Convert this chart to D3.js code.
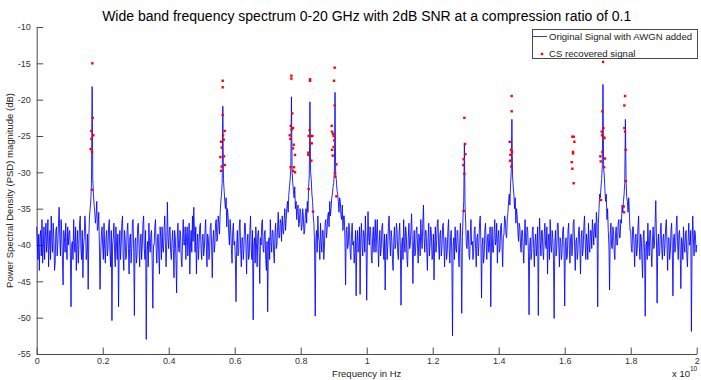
<!DOCTYPE html>
<html>
<head>
<meta charset="utf-8">
<script src="https://cdn.jsdelivr.net/npm/d3@7"></script>
<style>
    html, body { margin: 0; padding: 0; background: #fff; }
    svg { display: block; font-family: "Liberation Sans", Arial, Helvetica, sans-serif; }
</style>
</head>
<body>
<svg id="chart" width="701" height="380"></svg>
<script>
// PSD of the noisy signal, one sample every 2e7 Hz (0 .. 2e10 Hz), in dB
const freqStep = 2e7;
const psd = [
    -37.5, -40, -42, -38.5, -43.5, -39, -38, -41.5, -36.5, -42.5, -40.5, -37.5, -42, -39, -37, -41, -39.5, -36.5, -43, -40, -38, -42, -36, -39.5, -41,
    -37, -39, -43.5, -42.5, -38, -37.5, -41.5, -40, -37, -34.8, -39, -41.5, -36.5, -38.5, -42, -45.5, -38, -39, -41, -37, -40.5, -42, -37.5, -40, -38.5,
    -38, -41, -48.5, -40, -39.5, -42, -36.5, -39.5, -41, -37.5, -43.5, -40, -38, -42.5, -40, -37, -36, -40.5, -42, -38, -44.5, -40, -39, -36, -37.5,
    -42, -41, -38.5, -46.1, -39, -36, -35, -33.8, -31.5, -18.2, -31, -33, -34.5, -35.5, -37, -36, -34, -38, -37.5, -35.5, -40, -46.1, -41, -38.5, -37.5,
    -40, -42, -37, -40.5, -42.5, -39, -38, -41.5, -40.5, -37.5, -36.5, -41, -43, -38, -50.4, -40, -39, -37, -41, -43, -37.5, -40, -42, -38.5, -48.5,
    -40.5, -38, -42, -40, -37, -36, -41.5, -43.5, -38, -39, -42, -41.5, -38, -37, -40.5, -44, -39, -38.5, -42.5, -40.5, -37, -36.5, -41, -49.7, -39.5,
    -39, -42.5, -41.5, -37.5, -37, -40, -43, -39.5, -38.5, -42, -40, -37, -36, -40.5, -42, -38, -53, -41, -39.5, -43, -37, -40, -41, -38.5, -38,
    -42.5, -48.7, -40, -40, -37.5, -36.5, -40.5, -42.5, -39, -38.5, -41.5, -44, -37.5, -39, -42, -37.5, -40.5, -41, -38, -36, -39.5, -43, -40, -34.1, -39,
    -40.5, -38, -37.5, -41, -42, -39.5, -38, -40.5, -44.5, -38, -39, -42, -46.6, -39, -37, -40.5, -41, -38, -38.5, -42, -43, -39.5, -36.5, -40, -40,
    -37.5, -42, -39, -37.5, -41.5, -39.5, -37, -44, -40, -38, -41, -36, -39.5, -34.8, -38, -41, -37.5, -44, -40, -38.5, -42, -40, -37.5, -37, -40.5,
    -42, -39, -38.5, -41.5, -40.5, -38, -36.5, -40, -43, -38.5, -39, -42, -41, -37.5, -37, -40, -44.5, -39.5, -38, -41, -40, -37, -36.5, -39.5, -39,
    -36, -37, -38.5, -35.5, -34, -33, -31.5, -20.9, -31, -32.5, -34, -35, -33.5, -37.5, -35, -36, -38.5, -40, -36.5, -38, -40.5, -42.5, -38, -37, -40,
    -39.5, -42, -47.8, -40, -38, -41.5, -41, -37.5, -36.5, -40.5, -43, -39, -39, -42, -40.5, -37, -37, -40, -44, -39.5, -38.5, -42, -41.5, -38, -36,
    -40.5, -42, -38, -50.3, -40, -39, -42.5, -37.5, -40, -43, -38.5, -38, -41, -45.3, -39, -40, -37, -36.5, -40.5, -41, -38.5, -38, -42, -43.5, -39.5,
    -49.2, -40, -39, -42, -36.5, -39.5, -41, -38, -38, -41, -42.5, -38.5, -37, -40.5, -40, -37.5, -35.5, -39, -39, -36.5, -37, -39.5, -36, -38, -38.5,
    -36.5, -35, -38, -36.5, -35, -34, -35.5, -33, -32, -31, -29.5, -19.6, -30, -31.5, -32.5, -33.5, -32, -35, -34, -36.5, -35, -34.5, -37.5, -37, -35,
    -35.5, -38, -37.5, -35, -36, -38.5, -38, -36, -35, -37, -34, -35.5, -32, -30.5, -20.3, -30, -31, -33, -34, -36, -37, -40, -49.8, -39, -38,
    -41, -36, -39, -39.5, -42, -37, -39.5, -41, -38, -38, -42, -40, -37, -36.5, -39, -38, -36, -35.5, -37.5, -34, -36, -35, -33.5, -33, -32,
    -31.5, -30, -19, -30.5, -31, -32.5, -33, -34, -35.5, -33.5, -34, -36, -36.5, -34.5, -38, -36, -36, -39, -45.5, -38, -37.5, -40.5, -40, -37, -38,
    -41, -42, -38.5, -37, -40, -39.5, -42.5, -41, -38, -47, -39.5, -38, -41, -40.5, -37.5, -46.8, -39, -37, -40, -41.5, -38, -38.5, -41, -36, -39.5,
    -47.6, -40, -35.4, -39, -40, -37.5, -38, -41.5, -42.5, -39, -37.5, -41, -39, -36.5, -41, -38.5, -36.5, -40, -43, -39.5, -38, -41.5, -40.5, -37.5, -37,
    -40, -42, -38.5, -46.2, -40, -38.5, -42, -40, -37, -36, -39.5, -41.5, -38, -39, -42, -43.5, -39.5, -37.5, -40.5, -40, -37, -38, -41, -42, -38.5,
    -37, -40.5, -48.3, -40, -39, -42, -36.5, -39.5, -41, -37.5, -38.5, -42, -43, -39, -37, -40.5, -40, -38, -35.7, -39.5, -45.3, -40, -38, -41.5, -41,
    -38, -37.5, -40, -42.5, -38.5, -39, -41.5, -36.5, -39, -40.5, -37, -34.5, -39, -41, -38, -38, -41, -43.5, -39, -37, -41.5, -40, -37.5, -38.5, -42,
    -41.5, -38.5, -44.8, -40, -37.5, -41, -39.5, -37, -36.5, -40, -42, -38.5, -38, -41.5, -40.5, -37.5, -37, -40, -43, -39, -39, -42, -41, -38, -36.5,
    -40.5, -42.5, -39, -38, -41.5, -52.5, -40, -39, -42, -37.5, -40.5, -41, -38, -38, -41.5, -43, -39.5, -37, -41, -49.4, -39, -36, -34, -26, -34.5,
    -37, -40, -40.5, -38, -38, -41.5, -42, -38.5, -36.5, -40, -39.5, -42, -41, -38, -37.5, -40.5, -43, -39, -38.5, -41.5, -40, -37, -36, -39.5, -47.3,
    -40, -39, -42.5, -41.5, -38, -37, -40, -42, -39, -38.5, -41, -40, -37.5, -48.5, -40, -37.5, -41, -41, -38.5, -36.5, -40, -39.5, -37, -42.5, -39,
    -38, -41, -40.5, -37.5, -37, -40, -43, -39, -38.5, -36, -36.5, -38.5, -39, -36.5, -35.5, -34, -33, -34.5, -31.5, -30, -22.7, -30.5, -32, -33, -35,
    -33.5, -37, -35, -36, -38, -39.5, -37, -37.5, -40, -41, -38, -38, -40.5, -42.5, -39, -36.5, -40, -40, -37.5, -38, -41, -49.6, -40, -39, -42,
    -41, -38, -37.5, -40.5, -43, -39.5, -38.5, -41.5, -40, -37.5, -49.7, -40, -36.3, -39.5, -41.5, -38, -38, -41, -42, -38.5, -37, -40, -40.5, -37.5, -44,
    -39.5, -38.5, -42, -36.5, -40, -41, -38, -39, -42, -50.1, -40, -38, -41.5, -40.5, -37, -37, -40, -43, -39, -39.5, -42, -41, -38, -37.5, -40.5,
    -48.4, -40, -39, -42, -41.5, -38, -37, -40.5, -42.5, -39, -38.5, -41.5, -40, -37, -36.5, -40, -43.5, -39.5, -39, -42, -41, -38, -37.5, -40.5, -44,
    -39, -38, -41.5, -40.5, -37.5, -36, -39.5, -42, -38.5, -39.5, -42, -37, -40, -41, -38, -38, -40.5, -36.5, -38, -40, -37.5, -37, -39, -35.5, -37,
    -48.5, -37, -35, -33, -33.5, -32, -31, -29, -17.9, -29.5, -30.5, -32.5, -34, -33, -36.5, -35, -38, -40, -46.2, -38.5, -37, -40, -40.5, -37.5, -38,
    -41, -42, -38.5, -37.5, -40, -40, -37, -36.5, -39, -39, -36.5, -37, -34.5, -35.5, -34, -33, -31.5, -22.7, -31, -33.5, -34, -35.5, -33.5, -35.5, -38,
    -38, -40.5, -41, -37.5, -37.5, -40, -43, -39, -38.5, -41.5, -40.5, -37.5, -36, -40, -42, -38.5, -39, -42, -44.5, -39, -38, -41, -49.8, -40, -39.5,
    -42, -37, -40, -41.5, -38, -38, -41, -43, -39.5, -37.5, -40.5, -40, -37, -33.9, -39, -48, -40, -38.5, -41.5, -41, -38, -37, -40.5, -42, -39,
    -38.5, -41.5, -40, -37.5, -36.5, -40, -43.5, -39, -39, -42, -41, -38, -37, -40.5, -47, -39, -38.5, -41, -40.5, -37.5, -36, -39.5, -42, -38.5, -38,
    -41, -46, -39, -39.5, -42, -37.5, -40, -41, -38.5, -38, -41.5, -43, -39.5, -37, -40, -40, -38, -51.9, -40, -36, -39, -41.5, -38, -38.5, -41,
    -40
];

// CS recovered signal points (frequency in units of 1e10 Hz, magnitude in dB)
const csFreq = [
    0.1687, 0.1697, 0.1657, 0.1717, 0.1657, 0.1636, 0.1677, 0.1677,
    0.5636, 0.5636, 0.5636, 0.5697, 0.5646, 0.5667, 0.5586, 0.5606, 0.5677, 0.5566, 0.5697, 0.5606, 0.5586,
    0.7717, 0.7717, 0.7747, 0.7697, 0.7768, 0.7727, 0.7667, 0.7687, 0.7788, 0.7768, 0.7828, 0.7697, 0.7798, 0.7768, 0.7828,
    0.8283, 0.8283, 0.8273, 0.8242, 0.8303, 0.8354, 0.8283, 0.8333, 0.8232, 0.8232, 0.8323, 0.8242, 0.8374,
    0.9030, 0.9010, 0.9030, 0.8939, 0.8949, 0.8980, 0.9000, 0.9020, 0.9000, 0.8949, 0.8970, 0.9081, 0.9040, 0.9050, 0.9081,
    1.2960, 1.2980, 1.2990, 1.2939, 1.2929, 1.2960, 1.2939,
    1.4394, 1.4394, 1.4333, 1.4374, 1.4404, 1.4354, 1.4343, 1.4384,
    1.6232, 1.6273, 1.6293, 1.6253, 1.6253, 1.6212, 1.6232, 1.6273,
    1.7162, 1.7141, 1.7172, 1.7121, 1.7131, 1.7182, 1.7202, 1.7141, 1.7081, 1.7222, 1.7091, 1.7192, 1.7101,
    1.7828, 1.7808, 1.7808, 1.7828, 1.7848, 1.7848, 1.7788, 1.7798
];
const csMag = [
    -15.0, -22.5, -24.3, -24.9, -25.4, -26.8, -27.2, -32.4,
    -17.4, -18.3, -22.1, -24.3, -24.9, -25.5, -25.8, -26.6, -27.8, -27.9, -29.0, -29.2, -29.8,
    -16.7, -17.1, -21.9, -23.6, -23.9, -24.1, -24.9, -25.4, -26.2, -26.7, -27.6, -29.3, -29.3, -29.8, -30.0,
    -17.2, -17.4, -24.2, -25.0, -25.0, -25.0, -26.0, -26.0, -27.3, -27.6, -28.4, -32.3, -35.4,
    -15.6, -17.4, -20.8, -23.6, -24.4, -24.7, -25.0, -25.6, -26.5, -26.9, -27.7, -28.9, -30.1, -30.6, -33.3,
    -22.5, -26.1, -27.5, -28.2, -29.0, -30.2, -35.3,
    -19.5, -21.6, -25.8, -26.9, -27.2, -27.6, -28.4, -29.2,
    -25.1, -25.1, -25.8, -27.2, -27.4, -28.6, -29.5, -31.5,
    -14.8, -21.6, -23.9, -24.4, -24.9, -25.2, -25.3, -27.2, -27.8, -28.1, -28.5, -29.3, -33.8,
    -19.5, -20.8, -23.9, -24.4, -26.9, -31.2, -34.7, -35.5
];

const xTickValues = [0, 0.2e10, 0.4e10, 0.6e10, 0.8e10, 1e10, 1.2e10, 1.4e10, 1.6e10, 1.8e10, 2e10];
const xTickLabels = ['0', '0.2', '0.4', '0.6', '0.8', '1', '1.2', '1.4', '1.6', '1.8', '2'];
const yTickValues = [-55, -50, -45, -40, -35, -30, -25, -20, -15, -10];

const titleText = 'Wide band frequency spectrum 0-20 GHz with 2dB SNR at a compression ratio of 0.1';
const xLabel = 'Frequency in Hz';
const yLabel = 'Power Spectral Density (PSD) magnitude (dB)';
const legendLabels = ['Original Signal with AWGN added', 'CS recovered signal'];

const plotLeft = 36.7, plotRight = 696.7, plotTop = 27, plotBottom = 354;
const axisColor = '#4a4a4a';

const svg = d3.select('#chart');

const x = d3.scaleLinear().domain([0, 2e10]).range([plotLeft, plotRight]);
const y = d3.scaleLinear().domain([-55, -10]).range([plotBottom, plotTop]);

// axes (matlab style: ticks pointing inward, no box)
const xAxis = svg.append('g')
    .attr('transform', `translate(0,${plotBottom})`)
    .call(d3.axisBottom(x)
        .tickValues(xTickValues)
        .tickFormat((d, i) => xTickLabels[i])
        .tickSizeInner(-6.5)
        .tickSizeOuter(0)
        .tickPadding(4));

const yAxis = svg.append('g')
    .attr('transform', `translate(${plotLeft},0)`)
    .call(d3.axisLeft(y)
        .tickValues(yTickValues)
        .tickFormat(d => d)
        .tickSizeInner(-6.5)
        .tickSizeOuter(0)
        .tickPadding(6));

[xAxis, yAxis].forEach(g => {
    g.select('.domain').attr('stroke', axisColor).attr('stroke-width', 1);
    g.selectAll('.tick line').attr('stroke', axisColor).attr('stroke-width', 1);
    g.selectAll('.tick text')
        .attr('fill', '#333')
        .style('font-family', '"Liberation Sans", Arial, sans-serif')
        .style('font-size', '9px');
});

// noisy spectrum
const line = d3.line()
    .x((d, i) => x(i * freqStep))
    .y(d => y(d));

svg.append('path')
    .datum(psd)
    .attr('d', line)
    .attr('fill', 'none')
    .attr('stroke', '#0000ff')
    .attr('stroke-width', 0.85)
    .attr('stroke-linejoin', 'miter');

// recovered points
svg.append('g')
    .selectAll('rect')
    .data(csFreq)
    .join('rect')
    .attr('x', d => x(d * 1e10) - 1.2)
    .attr('y', (d, i) => y(csMag[i]) - 1.2)
    .attr('width', 2.4)
    .attr('height', 2.4)
    .attr('fill', '#ff0000');

// texts
svg.append('text')
    .attr('x', (plotLeft + plotRight) / 2)
    .attr('y', 21)
    .attr('text-anchor', 'middle')
    .attr('font-size', '14px')
    .attr('fill', '#000')
    .text(titleText);

svg.append('text')
    .attr('x', (plotLeft + plotRight) / 2)
    .attr('y', 377)
    .attr('text-anchor', 'middle')
    .attr('font-size', '9.5px')
    .attr('fill', '#222')
    .text(xLabel);

svg.append('text')
    .attr('transform', `translate(13,${(plotTop + plotBottom) / 2}) rotate(-90)`)
    .attr('text-anchor', 'middle')
    .attr('font-size', '9.5px')
    .attr('fill', '#222')
    .text(yLabel);

// x 10^10 multiplier
const mult = svg.append('text')
    .attr('x', 672)
    .attr('y', 377)
    .attr('font-size', '9.5px')
    .attr('fill', '#222');
mult.append('tspan').text('x 10');
mult.append('tspan').attr('dy', -6).attr('font-size', '6.5px').text('10');

// legend
const lg = svg.append('g');
lg.append('rect')
    .attr('x', 532.5).attr('y', 29.5)
    .attr('width', 165).attr('height', 29)
    .attr('fill', '#fff')
    .attr('stroke', axisColor)
    .attr('stroke-width', 1);
lg.append('line')
    .attr('x1', 533).attr('x2', 547)
    .attr('y1', 36.5).attr('y2', 36.5)
    .attr('stroke', '#0000ff')
    .attr('stroke-width', 0.8);
lg.append('rect')
    .attr('x', 540.8).attr('y', 52.8)
    .attr('width', 2.4).attr('height', 2.4)
    .attr('fill', '#ff0000');
lg.selectAll('text.lab')
    .data(legendLabels)
    .join('text')
    .attr('class', 'lab')
    .attr('x', 549)
    .attr('y', (d, i) => 39.8 + i * 17.2)
    .attr('font-size', '9.6px')
    .attr('fill', '#222')
    .text(d => d);
</script>
</body>
</html>
